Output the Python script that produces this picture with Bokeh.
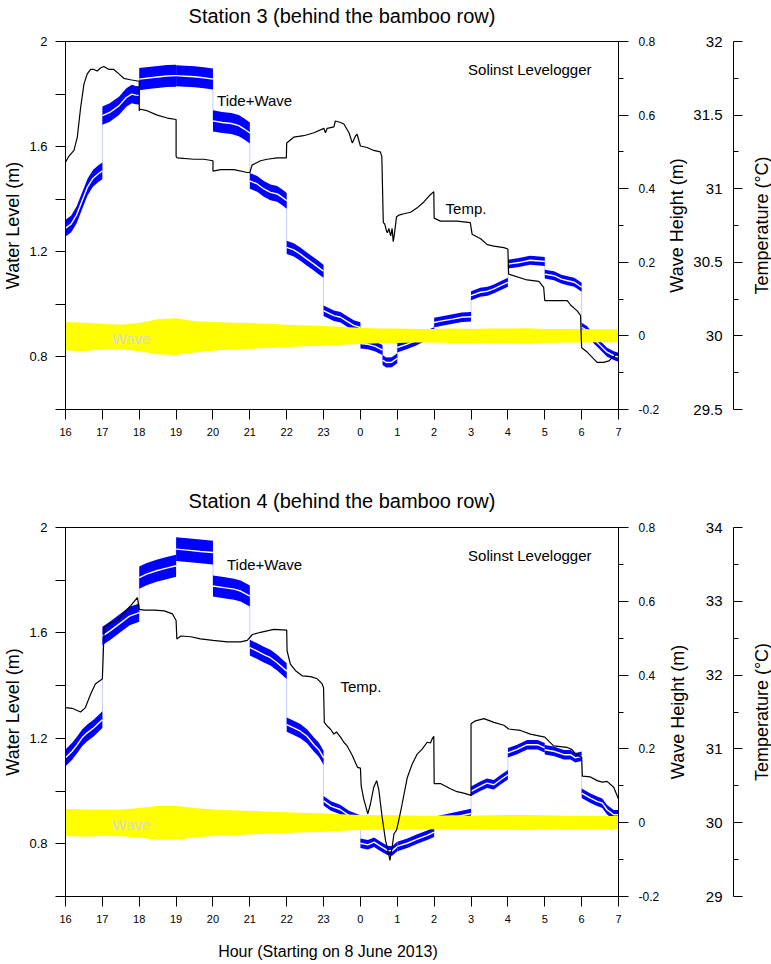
import math
from bokeh.plotting import figure
from bokeh.models import Range1d, LinearAxis, FixedTicker, CustomJSTickFormatter, Label
from bokeh.layouts import column, row
from bokeh.embed import file_html
from bokeh.resources import INLINE

FONT = "Liberation Sans"

# ---------------- axes / ticks ----------------
hour_ticks = list(range(16, 32))
hour_labels = ["16", "17", "18", "19", "20", "21", "22", "23",
               "0", "1", "2", "3", "4", "5", "6", "7"]
level_major = [0.8, 1.2, 1.6, 2.0]
level_minor = [0.6, 1.0, 1.4, 1.8]
wave_major = [-0.2, 0.0, 0.2, 0.4, 0.6, 0.8]
wave_minor = [-0.1, 0.1, 0.3, 0.5, 0.7]
top_temp_major = [29.5, 30.0, 30.5, 31.0, 31.5, 32.0]
top_temp_minor = [29.75, 30.25, 30.75, 31.25, 31.75]
bot_temp_major = [29, 30, 31, 32, 33, 34]
bot_temp_minor = [29.5, 30.5, 31.5, 32.5, 33.5]

# ---------------- Station 3 ----------------
top_tide_hour = [
    16.0, 16.15, 16.3, 16.45, 16.6, 16.75, 16.9, 17.0,
    17.0, 17.2, 17.45, 17.65, 17.8, 17.9, 18.0,
    18.0, 18.25, 18.5, 18.75, 19.0,
    19.0, 19.25, 19.5, 19.75, 20.0,
    20.0, 20.25, 20.5, 20.7, 20.85, 21.0,
    21.0, 21.2, 21.38, 21.56, 21.74, 21.88, 22.0,
    22.0, 22.19, 22.37, 22.55, 22.74, 22.92, 23.0,
    23.0, 23.28, 23.46, 23.64, 23.82, 24.0,
    24.0, 24.2, 24.4, 24.6,
    24.6, 24.7, 24.85, 25.0,
    25.0, 25.25, 25.5, 25.75, 26.0,
    26.0, 26.25, 26.5, 26.75, 27.0,
    27.0, 27.25, 27.45, 27.62, 27.8, 28.0,
    28.0, 28.3, 28.6, 28.85, 29.0,
    29.0, 29.25, 29.45, 29.62, 29.8, 30.0,
    30.0, 30.15, 30.33, 30.51, 30.69, 30.87, 31.0]
top_tide_level = [
    1.29, 1.305, 1.34, 1.394, 1.447, 1.48, 1.498, 1.508,
    1.718, 1.73, 1.755, 1.787, 1.80, 1.796, 1.795,
    1.857, 1.861, 1.865, 1.869, 1.870,
    1.870, 1.868, 1.866, 1.862, 1.857,
    1.698, 1.692, 1.688, 1.680, 1.667, 1.652,
    1.470, 1.458, 1.439, 1.426, 1.420, 1.407, 1.394,
    1.217, 1.207, 1.191, 1.172, 1.153, 1.134, 1.126,
    0.976, 0.957, 0.951, 0.935, 0.920, 0.912,
    0.851, 0.848, 0.840, 0.826,
    0.788, 0.779, 0.780, 0.795,
    0.836, 0.848, 0.862, 0.880, 0.894,
    0.931, 0.938, 0.944, 0.951, 0.953,
    1.033, 1.046, 1.050, 1.059, 1.071, 1.084,
    1.153, 1.159, 1.168, 1.165, 1.163,
    1.115, 1.109, 1.096, 1.090, 1.084, 1.065,
    0.913, 0.900, 0.868, 0.843, 0.818, 0.805, 0.799]
top_tide_spread = [0.032, 0.035, 0.042, 0.040, 0.040, 0.030, 0.025, 0.020,
                   0.019, 0.019, 0.019, 0.018, 0.017, 0.017, 0.017, 0.017]

top_temp_hour = [
    16.0, 16.09, 16.23, 16.32, 16.41, 16.5, 16.59, 16.68, 16.77, 16.86, 16.95,
    17.04, 17.18, 17.31, 17.45, 17.58, 17.76, 18.0,
    18.0, 18.03, 18.21, 18.49, 18.76, 19.0,
    19.0, 19.03, 19.48, 19.75, 20.0,
    20.0, 20.21, 20.57, 20.93, 21.0,
    21.06, 21.29, 21.47, 21.74, 21.99,
    22.0, 22.19, 22.46, 22.74, 23.01, 23.05, 23.10, 23.28, 23.32, 23.46, 23.55,
    23.69, 23.78, 23.87, 23.91, 24.0, 24.18, 24.36, 24.54, 24.58,
    24.62, 24.66, 24.70, 24.73, 24.77, 24.82, 24.86, 24.89, 24.92, 24.98,
    25.04, 25.18, 25.36, 25.54, 25.72, 25.86, 25.99,
    26.0, 26.17, 26.62, 26.98,
    27.03, 27.26, 27.44, 27.62, 27.89, 28.0,
    28.02, 28.52, 28.84, 28.97,
    29.0, 29.25, 29.61, 29.70, 29.88, 29.97,
    30.0, 30.15, 30.42, 30.60, 30.74, 30.96, 31.0]
top_temp_value = [
    31.18, 31.22, 31.26, 31.35, 31.55, 31.71, 31.78, 31.81, 31.81, 31.80, 31.82,
    31.83, 31.81, 31.81, 31.78, 31.75, 31.74, 31.73,
    31.53, 31.54, 31.53, 31.50, 31.48, 31.47,
    31.22, 31.21, 31.20, 31.20, 31.19,
    31.12, 31.13, 31.13, 31.11, 31.11,
    31.16, 31.19, 31.20, 31.21, 31.21,
    31.31, 31.35, 31.36, 31.38, 31.41, 31.38, 31.41, 31.42, 31.46, 31.45, 31.44,
    31.38, 31.31, 31.36, 31.37, 31.29, 31.28, 31.26, 31.25, 31.22,
    30.77, 30.76, 30.72, 30.70, 30.73, 30.68, 30.73, 30.64, 30.69, 30.81,
    30.82, 30.83, 30.84, 30.87, 30.91, 30.95, 30.98,
    30.80, 30.78, 30.78, 30.77,
    30.69, 30.66, 30.62, 30.61, 30.60, 30.59,
    30.42, 30.38, 30.37, 30.33,
    30.24, 30.24, 30.24, 30.21, 30.17, 30.14,
    29.92, 29.89, 29.82, 29.82, 29.83, 29.88, 29.87]

wave_hour = [16.0 + 0.5 * i for i in range(31)]
top_wave_upper = [0.038, 0.036, 0.033, 0.030, 0.035, 0.045, 0.048, 0.040, 0.038, 0.036,
                  0.035, 0.033, 0.030, 0.028, 0.027, 0.024, 0.022, 0.020, 0.020, 0.019,
                  0.019, 0.020, 0.019, 0.020, 0.020, 0.021, 0.019, 0.019, 0.018, 0.018, 0.018]
top_wave_lower = [-0.040, -0.042, -0.036, -0.036, -0.042, -0.050, -0.052, -0.045, -0.040, -0.037,
                  -0.035, -0.033, -0.030, -0.028, -0.027, -0.024, -0.022, -0.020, -0.019, -0.018,
                  -0.018, -0.019, -0.019, -0.020, -0.020, -0.021, -0.019, -0.018, -0.018, -0.017, -0.017]

# ---------------- Station 4 ----------------
bot_tide_hour = [
    16.0, 16.18, 16.32, 16.45, 16.59, 16.77, 17.0,
    17.0, 17.2, 17.38, 17.56, 17.74, 18.0,
    18.0, 18.2, 18.47, 18.74, 19.0,
    19.0, 19.3, 19.66, 20.0,
    20.0, 20.29, 20.57, 20.75, 21.0,
    21.0, 21.2, 21.38, 21.56, 21.74, 22.0,
    22.0, 22.19, 22.37, 22.55, 22.74, 22.87, 23.0,
    23.0, 23.2, 23.45, 23.7, 24.0,
    24.0, 24.2, 24.37, 24.55, 24.73, 24.86, 25.0,
    25.0, 25.27, 25.54, 25.81, 26.0,
    26.0, 26.5, 27.0,
    27.0, 27.25, 27.43, 27.62, 27.8, 28.0,
    28.0, 28.25, 28.52, 28.8, 29.0,
    29.0, 29.24, 29.52, 29.7, 29.83, 30.0,
    30.0, 30.24, 30.42, 30.56, 30.69, 30.87, 31.0]
bot_tide_level = [
    1.126, 1.151, 1.176, 1.202, 1.221, 1.240, 1.271,
    1.588, 1.607, 1.626, 1.645, 1.664, 1.677,
    1.810, 1.823, 1.836, 1.846, 1.855,
    1.918, 1.914, 1.909, 1.905,
    1.778, 1.772, 1.766, 1.759, 1.740,
    1.544, 1.531, 1.518, 1.506, 1.487, 1.455,
    1.252, 1.240, 1.227, 1.208, 1.176, 1.157, 1.126,
    0.963, 0.943, 0.930, 0.906, 0.890,
    0.802, 0.796, 0.806, 0.790, 0.775, 0.773, 0.790,
    0.790, 0.802, 0.818, 0.832, 0.844,
    0.885, 0.900, 0.915,
    0.999, 1.018, 1.030, 1.024, 1.043, 1.062,
    1.145, 1.158, 1.176, 1.176, 1.164,
    1.157, 1.151, 1.138, 1.138, 1.126, 1.132,
    0.992, 0.973, 0.961, 0.954, 0.929, 0.910, 0.910]
bot_tide_spread = [0.032, 0.035, 0.042, 0.045, 0.040, 0.030, 0.027, 0.018,
                   0.018, 0.018, 0.018, 0.018, 0.018, 0.018, 0.018]

bot_temp_hour = [
    16.0, 16.18, 16.41, 16.54, 16.68, 16.81, 16.95, 17.0, 17.05,
    17.23, 17.41, 17.59, 17.77, 17.95,
    18.0, 18.14, 18.41, 18.68, 18.9, 19.0,
    19.02, 19.13, 19.4, 19.66, 20.0, 20.39, 20.75, 20.93, 21.07, 21.29, 21.65, 22.0,
    22.01, 22.1, 22.24, 22.42, 22.65, 22.83, 22.96, 23.0,
    23.02, 23.12, 23.2, 23.28, 23.35, 23.46, 23.55, 23.64, 23.78, 23.92, 24.0,
    24.02, 24.09, 24.2, 24.27, 24.36, 24.44, 24.5, 24.59, 24.68, 24.74, 24.8,
    24.86, 24.91, 24.98, 25.04, 25.13, 25.27, 25.4, 25.54, 25.68, 25.81, 25.9, 25.95, 25.99,
    26.0, 26.17, 26.44, 26.62, 26.8, 27.0,
    27.0, 27.12, 27.35, 27.62, 27.89, 28.02, 28.34, 28.61, 29.0,
    29.24, 29.61, 29.74, 29.88, 30.0,
    30.02, 30.24, 30.42, 30.56, 30.69, 30.87, 31.0]
bot_temp_value = [
    31.56, 31.55, 31.50, 31.56, 31.74, 31.88, 31.93, 31.95, 32.65,
    32.71, 32.74, 32.85, 32.94, 33.05,
    32.89, 32.88, 32.88, 32.87, 32.83, 32.74,
    32.49, 32.53, 32.52, 32.49, 32.47, 32.45, 32.45, 32.47, 32.55, 32.58, 32.62, 32.61,
    32.33, 32.15, 32.06, 31.99, 31.98, 31.95, 31.88, 31.83,
    31.36, 31.30, 31.26, 31.20, 31.23, 31.16, 31.09, 31.04, 30.91, 30.75, 30.74,
    30.50, 30.32, 30.12, 30.25, 30.48, 30.57, 30.44, 30.07, 29.76, 29.64, 29.49,
    29.67, 29.85, 29.90, 30.03, 30.25, 30.61, 30.79, 30.93, 31.00, 31.09, 31.08, 31.14, 31.17,
    30.53, 30.53, 30.46, 30.42, 30.40, 30.37,
    31.34, 31.38, 31.41, 31.36, 31.32, 31.27, 31.25, 31.20, 31.16,
    31.04, 31.02, 30.99, 30.91, 30.89,
    30.63, 30.62, 30.57, 30.55, 30.56, 30.48, 30.32]

bot_wave_upper = [0.037, 0.036, 0.035, 0.036, 0.040, 0.045, 0.045, 0.040, 0.036, 0.034,
                  0.032, 0.030, 0.028, 0.026, 0.025, 0.023, 0.021, 0.020, 0.020, 0.019,
                  0.019, 0.020, 0.019, 0.020, 0.021, 0.021, 0.020, 0.019, 0.019, 0.018, 0.018]
bot_wave_lower = [-0.036, -0.038, -0.036, -0.037, -0.040, -0.046, -0.046, -0.040, -0.036, -0.034,
                  -0.032, -0.030, -0.028, -0.026, -0.025, -0.022, -0.020, -0.019, -0.019, -0.018,
                  -0.018, -0.018, -0.018, -0.019, -0.019, -0.020, -0.019, -0.018, -0.018, -0.017, -0.017]

# text annotations: (text, hour, water level)
top_notes = [("Tide+Wave", 20.11, 1.775), ("Solinst Levelogger", 26.92, 1.892),
             ("Temp.", 26.31, 1.363)]
bot_notes = [("Tide+Wave", 20.38, 1.861), ("Solinst Levelogger", 26.92, 1.892),
             ("Temp.", 23.46, 1.398)]
top_wave_note = ("Wave", 17.27, 0.870)
bot_wave_note = ("Wave", 17.27, 0.872)

# title strips: (text, font size, strip height, centre x px, text middle px above strip bottom)
top_title = ("Station 3 (behind the bamboo row)", "20px", 30, 341.5, 14.3)
bot_title = ("Station 4 (behind the bamboo row)", "20px", 55, 341.5, 15.0)
x_title = ("Hour (Starting on 8 June 2013)", "16px", 34, 327.5, 12.6)

PAGE_W, MAIN_W = 771, 664
TEMP_W = PAGE_W - MAIN_W
num_fmt = "return String(Math.round(tick * 1000) / 1000);"


def style_axis(ax, size):
    ax.axis_line_color = "black"
    ax.major_tick_line_color = "black"
    ax.minor_tick_line_color = "black"
    ax.major_label_text_font = FONT
    ax.major_label_text_font_size = size
    ax.major_label_text_color = "black"
    ax.axis_label_text_font = FONT
    ax.axis_label_text_font_size = "18px"
    ax.axis_label_text_font_style = "normal"
    ax.axis_label_text_color = "black"


def split_segments(hours, levels):
    segs, cur_h, cur_l = [], [hours[0]], [levels[0]]
    for h, l in zip(hours[1:], levels[1:]):
        if h == cur_h[-1]:
            segs.append((cur_h, cur_l))
            cur_h, cur_l = [h], [l]
        else:
            cur_h.append(h)
            cur_l.append(l)
    segs.append((cur_h, cur_l))
    return segs


def text_strip(spec):
    txt, size, h, cx, mid = spec
    s = figure(width=PAGE_W, height=h, x_range=Range1d(0, PAGE_W), y_range=Range1d(0, h),
               output_backend="svg", toolbar_location=None, min_border=0,
               x_axis_location=None, y_axis_location=None)
    s.outline_line_color = None
    s.grid.visible = False
    s.background_fill_color = "white"
    s.border_fill_color = "white"
    s.add_layout(Label(x=cx, y=mid, text=txt, text_font=FONT, text_font_size=size,
                       text_color="black", text_align="center", text_baseline="middle"))
    return s


def build(height, ftop, fbot, tide_h, tide_l, spreads, temp_h, temp_v,
          w_up, w_lo, temp_lo, temp_hi, t_major, t_minor, notes, wave_note,
          wave_title_standoff):
    temp_range = Range1d(temp_lo, temp_hi)
    p = figure(width=MAIN_W, height=height, x_range=Range1d(16, 31), y_range=Range1d(0.6, 2.0),
               output_backend="svg", toolbar_location=None,
               min_border_left=65, min_border_right=MAIN_W - 618,
               min_border_top=ftop, min_border_bottom=height - fbot)
    p.extra_y_ranges = {"wave": Range1d(-0.2, 0.8), "temp": temp_range}
    p.grid.visible = False
    p.outline_line_color = "black"
    p.outline_line_width = 1
    p.background_fill_color = "white"
    p.border_fill_color = "white"

    # x axis
    xa = p.xaxis[0]
    style_axis(xa, "11px")
    xa.ticker = FixedTicker(ticks=hour_ticks)
    xa.major_label_overrides = dict(zip(hour_ticks, hour_labels))
    xa.major_tick_out = 10
    xa.major_tick_in = 0
    xa.major_label_standoff = 8

    # left axis
    ya = p.yaxis[0]
    style_axis(ya, "13px")
    ya.ticker = FixedTicker(ticks=level_major, minor_ticks=level_minor)
    ya.formatter = CustomJSTickFormatter(code=num_fmt)
    ya.major_tick_out = 10
    ya.major_tick_in = 0
    ya.minor_tick_out = 10
    ya.minor_tick_in = 0
    ya.major_label_standoff = 8
    ya.axis_label = "Water Level (m)"
    ya.axis_label_standoff = 3

    # wave axis (its title is drawn by the neighbouring panel, see below)
    wa = LinearAxis(y_range_name="wave",
                    ticker=FixedTicker(ticks=wave_major, minor_ticks=wave_minor),
                    formatter=CustomJSTickFormatter(code=num_fmt))
    style_axis(wa, "12px")
    wa.major_tick_out = 10
    wa.major_tick_in = 0
    wa.minor_tick_out = 5
    wa.minor_tick_in = 0
    wa.major_label_standoff = 10
    p.add_layout(wa, "right")

    # tide + wave series
    p.line(tide_h, tide_l, line_color="#c8ccfb", line_width=1)
    for (hs, ls), s in zip(split_segments(tide_h, tide_l), spreads):
        p.varea(x=hs, y1=[v - s for v in ls], y2=[v + s for v in ls],
                fill_color="#0000ff", fill_alpha=1)
        p.line(hs, ls, line_color="white", line_width=1.4)

    # wave
    p.varea(x=wave_hour, y1=w_lo, y2=w_up, fill_color="#ffff00", fill_alpha=1,
            y_range_name="wave")
    # temperature
    p.line(temp_h, temp_v, line_color="black", line_width=1.2, y_range_name="temp")

    for txt, hx, ly in notes:
        p.add_layout(Label(x=hx, y=ly, text=txt, text_font=FONT, text_font_size="15px",
                           text_color="black", text_baseline="middle", text_align="left"))
    txt, hx, ly = wave_note
    p.add_layout(Label(x=hx, y=ly, text=txt, text_font=FONT, text_font_size="15px",
                       text_color="#d9d9d9", text_baseline="middle", text_align="left"))

    # temperature axis panel (left-side labels, ticks pointing right)
    t = figure(width=TEMP_W, height=height, x_range=Range1d(0, 1), y_range=temp_range,
               output_backend="svg", toolbar_location=None,
               x_axis_location=None, y_axis_location=None,
               min_border_left=728 - MAIN_W, min_border_right=0,
               min_border_top=ftop, min_border_bottom=height - fbot)
    t.outline_line_color = None
    t.grid.visible = False
    t.background_fill_color = "white"
    t.border_fill_color = "white"
    ta = LinearAxis(ticker=FixedTicker(ticks=t_major, minor_ticks=t_minor),
                    formatter=CustomJSTickFormatter(code=num_fmt))
    style_axis(ta, "15px")
    ta.major_tick_out = 0
    ta.major_tick_in = 9
    ta.minor_tick_out = 0
    ta.minor_tick_in = 5
    ta.major_label_standoff = 11
    ta.axis_label = "Wave Height (m)"
    ta.axis_label_standoff = wave_title_standoff
    t.add_layout(ta, "left")
    t.add_layout(Label(x=0.744, y=(temp_lo + temp_hi) / 2, text="Temperature (°C)",
                       angle=math.pi / 2, text_font=FONT, text_font_size="18px",
                       text_color="black", text_align="center", text_baseline="middle"))
    return row(p, t)


# page rows: title strip 0-30, panel 30-460, title strip 460-515, panel 515-930, x title 930-964
top = build(430, 11, 379,
            top_tide_hour, top_tide_level, top_tide_spread,
            top_temp_hour, top_temp_value, top_wave_upper, top_wave_lower,
            29.5, 32.0, top_temp_major, top_temp_minor, top_notes, top_wave_note, 3)
bottom = build(415, 12, 381,
               bot_tide_hour, bot_tide_level, bot_tide_spread,
               bot_temp_hour, bot_temp_value, bot_wave_upper, bot_wave_lower,
               29, 34, bot_temp_major, bot_temp_minor, bot_notes, bot_wave_note, 15)

layout = column(text_strip(top_title), top, text_strip(bot_title), bottom, text_strip(x_title))
open("out.html", "w").write(file_html(layout, INLINE))
